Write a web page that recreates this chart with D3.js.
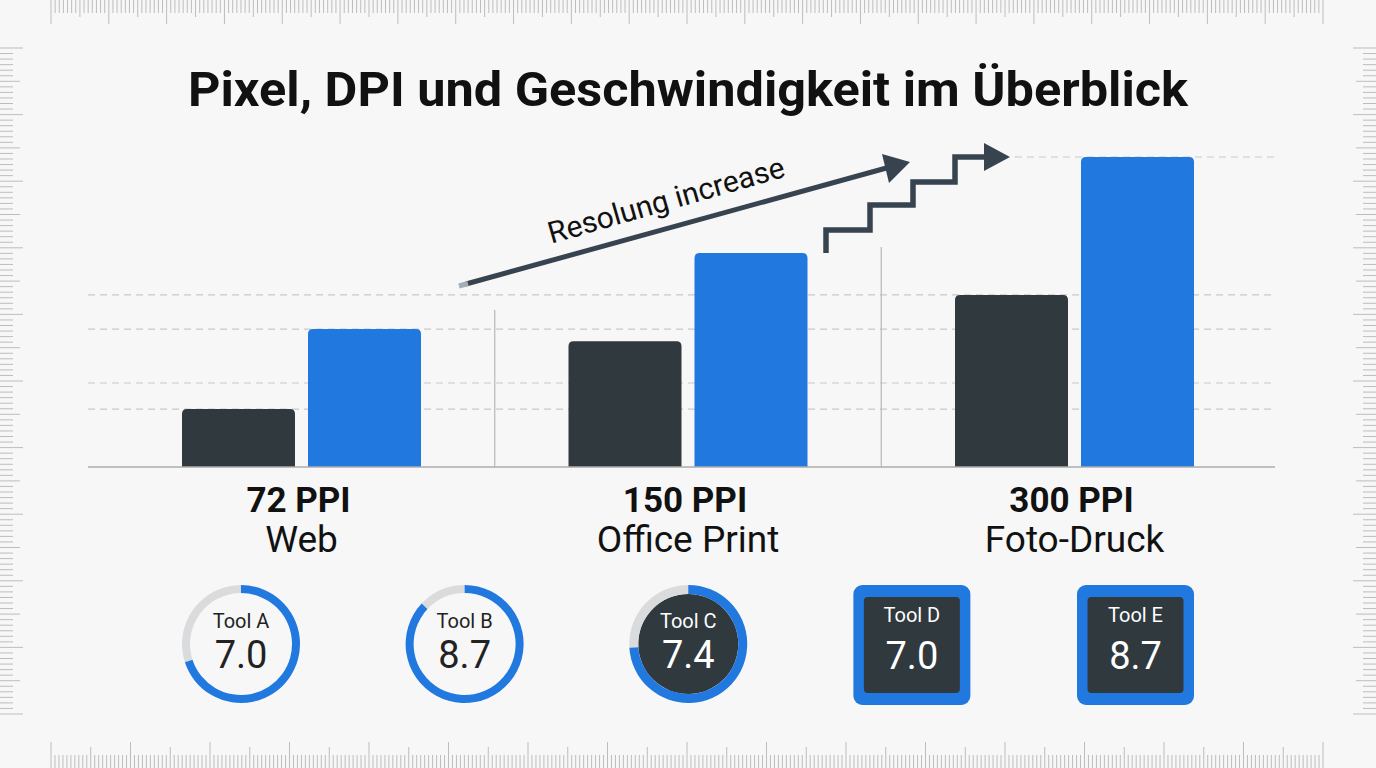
<!DOCTYPE html>
<html>
<head>
  <meta charset="utf-8">
  <title>Pixel, DPI und Geschwindigkeit</title>
  <script src="https://d3js.org/d3.v7.min.js"></script>
  <style>
    body { margin: 0; background: #f7f7f7; }
    svg { display: block; font-family: Roboto, "Noto Sans", sans-serif; }
  </style>
</head>
<body>
<script>
  // Data
  var categories = ["72 PPI", "150 PPI", "300 PPI"];
  var subLabels = ["Web", "Office Print", "Foto-Druck"];
  var darkValues = [18.7, 40.6, 55.5];
  var blueValues = [44.5, 69.0, 100];
  var gridValues = [18.7, 27.1, 44.5, 55.5];
  var tools = ["Tool A", "Tool B", "Tool C", "Tool D", "Tool E"];
  var toolScores = [7.0, 8.7, 7.4, 7.0, 8.7];
  var toolStyles = ["ring", "ring", "disc", "box", "box"];

  var W = 1376, H = 768;
  var blue = "#2178df", dark = "#30393d", ink = "#37444f";

  var svg = d3.select("body").append("svg")
      .attr("width", W).attr("height", H);
  svg.append("rect").attr("width", W).attr("height", H).attr("fill", "#f7f7f7");

  // Rulers round the edge
  var ruler = svg.append("g").attr("stroke", "#bdbdbd").attr("stroke-width", 1);
  var topX = d3.scaleLinear().domain([0, 22 * 14]).range([51, 1323]);
  d3.range(0, 22 * 14 + 1).forEach(function(i) {
    var len = i % 14 === 0 ? 24 : (i % 7 === 0 ? 17 : 13);
    ruler.append("line").attr("x1", topX(i)).attr("x2", topX(i)).attr("y1", 0).attr("y2", len);
  });
  var botX = d3.scaleLinear().domain([0, 16 * 20]).range([51, 1323]);
  d3.range(0, 16 * 20 + 1).forEach(function(i) {
    var len = i % 20 === 0 ? 26 : (i % 10 === 0 ? 21 : 13);
    ruler.append("line").attr("x1", botX(i)).attr("x2", botX(i)).attr("y1", H - len).attr("y2", H);
  });
  var sideY = d3.scaleLinear().domain([0, 120]).range([48, 714]);
  d3.range(0, 121).forEach(function(i) {
    var len = i % 12 === 0 ? 23 : (i % 6 === 0 ? 20 : 13);
    ruler.append("line").attr("x1", 0).attr("x2", len).attr("y1", sideY(i)).attr("y2", sideY(i));
    ruler.append("line").attr("x1", W - len).attr("x2", W).attr("y1", sideY(i)).attr("y2", sideY(i));
  });

  // Title
  svg.append("text")
      .attr("x", 688).attr("y", 106)
      .attr("text-anchor", "middle")
      .attr("font-size", 48).attr("font-weight", 700).attr("fill", "#111")
      .attr("textLength", 1000).attr("lengthAdjust", "spacingAndGlyphs")
      .text("Pixel, DPI und Geschwindigkeit im Überblick");

  // Scales
  var x0 = d3.scaleBand().domain(categories).range([108.25, 1267.75]).padding(0);
  var x1 = d3.scaleBand().domain(["dark", "blue"]).range([73.75, 312.75]).paddingInner(0.1032);
  var y = d3.scaleLinear().domain([0, 100]).range([467, 157]);
  var left = 88, right = 1275;

  // Grid
  var grid = svg.append("g");
  grid.selectAll(".grid").data(gridValues).enter().append("line")
      .attr("x1", left).attr("x2", right)
      .attr("y1", function(d) { return y(d); }).attr("y2", function(d) { return y(d); })
      .attr("stroke", "#c9c9c9").attr("stroke-width", 1.2).attr("stroke-dasharray", "7,5");
  grid.append("line")
      .attr("x1", 1015).attr("x2", right).attr("y1", y(100)).attr("y2", y(100))
      .attr("stroke", "#c9c9c9").attr("stroke-width", 1.2).attr("stroke-dasharray", "7,5");

  // group separators
  grid.append("line").attr("x1", x0("150 PPI")).attr("x2", x0("150 PPI"))
      .attr("y1", 310).attr("y2", y(0)).attr("stroke", "#b8b8b8").attr("stroke-width", 1.2);
  grid.append("line").attr("x1", x0("300 PPI")).attr("x2", x0("300 PPI"))
      .attr("y1", 247).attr("y2", y(0)).attr("stroke", "#b8b8b8").attr("stroke-width", 1.2);

  // Bars
  function topRounded(x, yTop, w, h, r) {
    return "M" + x + "," + (yTop + h) +
      "V" + (yTop + r) +
      "Q" + x + "," + yTop + " " + (x + r) + "," + yTop +
      "H" + (x + w - r) +
      "Q" + (x + w) + "," + yTop + " " + (x + w) + "," + (yTop + r) +
      "V" + (yTop + h) + "Z";
  }
  var rows = categories.map(function(c, i) {
    return {cat: c, vals: [{k: "dark", v: darkValues[i]}, {k: "blue", v: blueValues[i]}]};
  });
  var groups = svg.selectAll(".grp").data(rows).enter().append("g")
      .attr("transform", function(d) { return "translate(" + x0(d.cat) + ",0)"; });
  groups.selectAll("path").data(function(d) { return d.vals; }).enter().append("path")
      .attr("d", function(d) {
        return topRounded(x1(d.k), y(d.v), x1.bandwidth(), y(0) - y(d.v), 5);
      })
      .attr("fill", function(d) { return d.k === "dark" ? dark : blue; });

  // baseline
  svg.append("line").attr("x1", left).attr("x2", right).attr("y1", y(0)).attr("y2", y(0))
      .attr("stroke", "#adadad").attr("stroke-width", 1.5);

  // Category labels
  var labels = svg.selectAll(".lab").data(categories).enter().append("g");
  labels.append("text")
      .attr("x", function(d) { return x0(d) + x0.bandwidth() / 2 - 3; })
      .attr("y", 512).attr("text-anchor", "middle")
      .attr("font-size", 35).attr("font-weight", 700).attr("fill", "#111")
      .text(function(d) { return d; });
  labels.append("text")
      .attr("x", function(d) { return x0(d) + x0.bandwidth() / 2; })
      .attr("y", 552).attr("text-anchor", "middle")
      .attr("font-size", 37).attr("fill", "#111")
      .text(function(d, i) { return subLabels[i]; });

  // Annotation: straight arrow
  var ann = svg.append("g");
  ann.append("line").attr("x1", 466).attr("y1", 284).attr("x2", 890).attr("y2", 167)
      .attr("stroke", ink).attr("stroke-width", 5);
  ann.append("line").attr("x1", 459).attr("y1", 286).attr("x2", 468).attr("y2", 283.5)
      .attr("stroke", "#a3adb3").attr("stroke-width", 5);
  ann.append("path").attr("d", "M910,162 L882,154 L889,183 Z").attr("fill", ink);
  ann.append("text")
      .attr("transform", "translate(669,210) rotate(-16)")
      .attr("text-anchor", "middle").attr("font-size", 30).attr("fill", "#111")
      .text("Resolung increase");

  // Annotation: stair arrow
  var stair = [[826, 253], [826, 230], [870, 230], [870, 205], [913, 205], [913, 182],
               [955, 182], [955, 157], [988, 157]];
  ann.append("path").attr("d", d3.line()(stair))
      .attr("fill", "none").attr("stroke", ink).attr("stroke-width", 5.5)
      .attr("stroke-linejoin", "miter");
  ann.append("path").attr("d", "M1010,157 L984,143 L984,171 Z").attr("fill", ink);

  // Tool scores
  var tx = d3.scalePoint().domain(tools).range([241, 1135.5]);
  var cy = 644;
  var arc = d3.arc();
  var toolG = svg.selectAll(".tool").data(tools).enter().append("g")
      .attr("transform", function(d) { return "translate(" + tx(d) + "," + cy + ")"; });
  toolG.each(function(d, i) {
    var g = d3.select(this);
    var s = toolStyles[i];
    var frac = toolScores[i] / 10;
    var textCol = "#222";
    if (s === "ring" || s === "disc") {
      var inner = s === "disc" ? 50 : 51;
      if (s === "disc") {
        g.append("circle").attr("r", inner).attr("fill", dark);
        textCol = "#fff";
      }
      g.append("path").attr("d", arc({innerRadius: inner, outerRadius: 59, startAngle: frac * 2 * Math.PI, endAngle: 2 * Math.PI}))
          .attr("fill", "#d9dbdc");
      g.append("path").attr("d", arc({innerRadius: inner, outerRadius: 59, startAngle: 0, endAngle: frac * 2 * Math.PI}))
          .attr("fill", blue);
    } else {
      g.append("rect").attr("x", -58.5).attr("y", -59).attr("width", 117).attr("height", 120)
          .attr("rx", 9).attr("fill", blue);
      g.append("rect").attr("x", -48).attr("y", -47).attr("width", 96).attr("height", 96)
          .attr("rx", 4).attr("fill", dark);
      textCol = "#fff";
    }
    var boxy = s === "box";
    g.append("text").attr("y", boxy ? -22 : -16).attr("text-anchor", "middle")
        .attr("font-size", 20).attr("fill", textCol).text(d);
    g.append("text").attr("y", boxy ? 25 : 24).attr("text-anchor", "middle")
        .attr("font-size", 38).attr("fill", textCol).text(d3.format(".1f")(toolScores[i]));
  });
</script>
</body>
</html>
